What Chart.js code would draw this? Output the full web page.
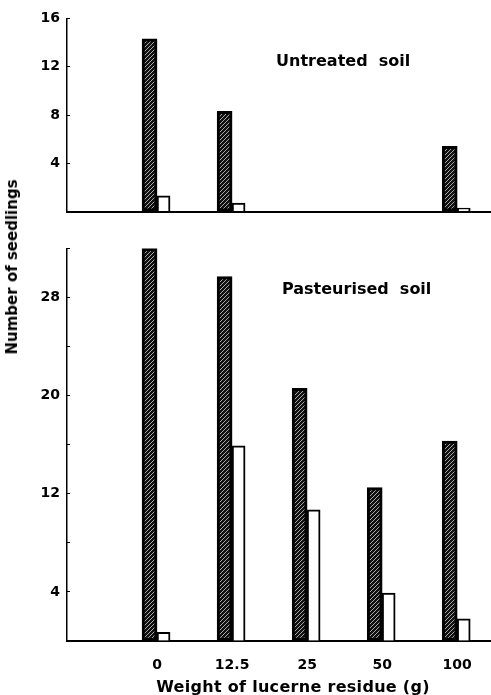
<!DOCTYPE html>
<html>
<head>
<meta charset="utf-8">
<script src="https://cdn.jsdelivr.net/npm/chart.js@4.4.1/dist/chart.umd.min.js"></script>
<style>
  body { margin: 0; background: #fff; }
  #wrap { position: relative; width: 491px; height: 695px; }
  #top-chart { position: absolute; left: 0; top: 0; }
  #bottom-chart { position: absolute; left: 0; top: 230px; }
  #y-title {
    position: absolute; left: 12px; top: 267px;
    transform: translate(-50%, -50%) rotate(-90deg);
    font: bold 15px "DejaVu Sans"; white-space: nowrap; color: #000;
  }
  #x-title {
    position: absolute; left: 293px; top: 686px;
    transform: translate(-50%, -50%);
    font: bold 16px "DejaVu Sans"; white-space: nowrap; color: #000;
    letter-spacing: 0.3px;
  }
</style>
</head>
<body>
<div id="wrap">
  <canvas id="top-chart" width="491" height="230"></canvas>
  <canvas id="bottom-chart" width="491" height="465"></canvas>
  <div id="y-title">Number of seedlings</div>
  <div id="x-title">Weight of lucerne residue (g)</div>
</div>
<script>
// Seedling counts vs weight of lucerne residue
const doses = ['0', '12.5', '25', '50', '100'];

const untreatedHatched = [14.3, 8.3, null, null, 5.4];
const untreatedOpen = [1.3, 0.7, null, null, 0.3];

const pasteurisedHatched = [32, 29.7, 20.6, 12.5, 16.3];
const pasteurisedOpen = [0.7, 15.9, 10.7, 3.9, 1.8];

const untreatedTickLabels = [4, 8, 12, 16];
const pasteurisedTickLabels = [4, 12, 20, 28];

const FONT = 'DejaVu Sans';

// diagonal hatch fill for the dark bars
function makeHatch() {
    const c = document.createElement('canvas');
    c.width = 4;
    c.height = 4;
    const g = c.getContext('2d');
    g.fillStyle = '#111';
    g.fillRect(0, 0, 4, 4);
    g.strokeStyle = '#a8a8a8';
    g.lineWidth = 1;
    g.beginPath();
    g.moveTo(0, 4); g.lineTo(4, 0);
    g.moveTo(-1, 1); g.lineTo(1, -1);
    g.moveTo(3, 5); g.lineTo(5, 3);
    g.stroke();
    return g.createPattern(c, 'repeat');
}
const hatch = makeHatch();

function toPoints(values) {
    return values.map((v, i) => ({ x: i, y: v }));
}

// writes the panel name inside the plot, placed in data units
const panelLabel = {
    id: 'panelLabel',
    afterDatasetsDraw(chart, args, opts) {
        const ctx = chart.ctx;
        const px = chart.scales.x.getPixelForValue(opts.x);
        const py = chart.scales.y.getPixelForValue(opts.y);
        ctx.save();
        ctx.font = 'bold 16px "' + FONT + '"';
        ctx.fillStyle = '#000';
        ctx.textAlign = 'center';
        ctx.textBaseline = 'middle';
        ctx.fillText(opts.text, px, py);
        ctx.restore();
    }
};

function buildChart(canvasId, hatched, open, yMax, tickLabels, label, isBottom) {
    return new Chart(document.getElementById(canvasId), {
        type: 'bar',
        data: {
            datasets: [
                {
                    data: toPoints(hatched),
                    backgroundColor: hatch,
                    borderColor: '#000',
                    borderWidth: 3,
                    borderSkipped: false,
                    barThickness: 15
                },
                {
                    data: toPoints(open),
                    backgroundColor: '#fff',
                    borderColor: '#000',
                    borderWidth: 2,
                    borderSkipped: 'bottom',
                    barThickness: 13
                }
            ]
        },
        options: {
            responsive: false,
            animation: false,
            layout: {
                padding: { top: isBottom ? 11 : 15, right: 0, bottom: 0, left: 0 }
            },
            plugins: {
                legend: { display: false },
                tooltip: { enabled: false },
                panelLabel: label
            },
            scales: {
                x: {
                    type: 'linear',
                    offset: false,
                    min: -1.2,
                    max: 4.45,
                    grid: { display: false, offset: false },
                    border: { display: true, color: '#000', width: 2 },
                    afterBuildTicks: scale => {
                        scale.ticks = doses.map((d, i) => ({ value: i }));
                    },
                    afterFit: scale => {
                        scale.height = isBottom ? 54 : 15;
                    },
                    ticks: {
                        display: isBottom,
                        padding: 8,
                        color: '#000',
                        font: { family: FONT, size: 14, weight: 'bold' },
                        callback: v => doses[v]
                    }
                },
                y: {
                    min: 0,
                    max: yMax,
                    grid: {
                        display: true,
                        drawOnChartArea: false,
                        drawTicks: true,
                        tickLength: -3,
                        color: '#000',
                        lineWidth: 1
                    },
                    border: { display: true, color: '#000', width: 1.5 },
                    afterFit: scale => {
                        scale.width = 67;
                    },
                    ticks: {
                        stepSize: 4,
                        padding: 10,
                        color: '#000',
                        font: { family: FONT, size: 14, weight: 'bold' },
                        callback: v => tickLabels.includes(v) ? v : ''
                    }
                }
            }
        },
        plugins: [panelLabel]
    });
}

buildChart('top-chart', untreatedHatched, untreatedOpen, 16, untreatedTickLabels,
    { text: 'Untreated  soil', x: 2.48, y: 12.4 }, false);
buildChart('bottom-chart', pasteurisedHatched, pasteurisedOpen, 32, pasteurisedTickLabels,
    { text: 'Pasteurised  soil', x: 2.66, y: 28.6 }, true);
</script>
</body>
</html>
